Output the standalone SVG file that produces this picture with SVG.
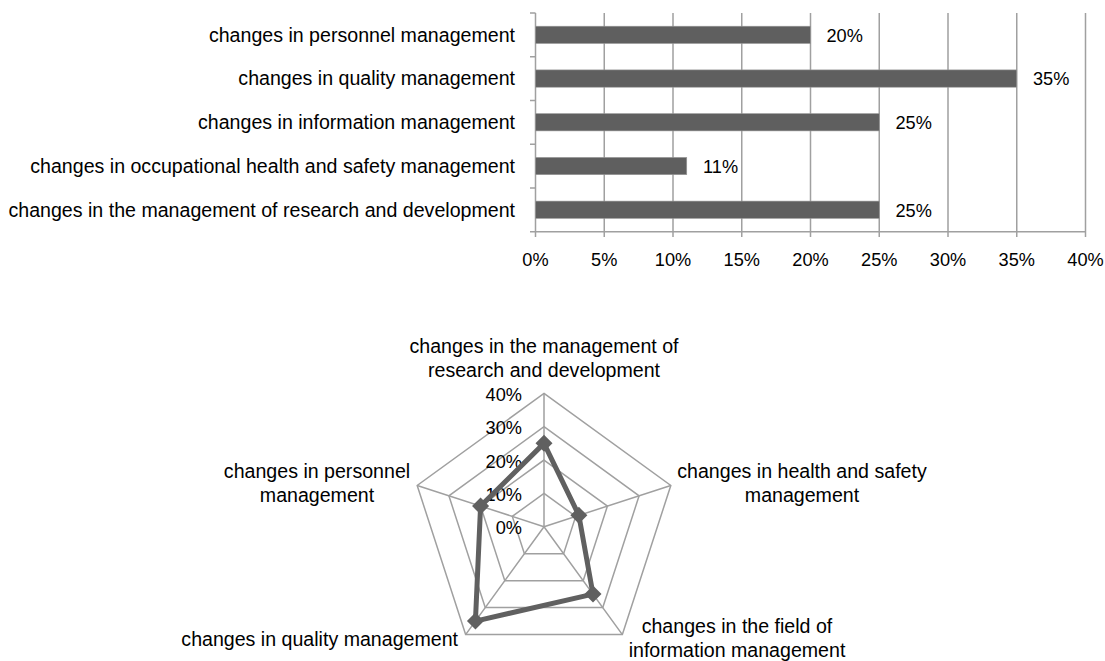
<svg xmlns="http://www.w3.org/2000/svg" width="1105" height="661" viewBox="0 0 1105 661">
<style>
text{font-family:"Liberation Sans",Arial,sans-serif;font-size:19.6px;fill:#000}
.num{font-size:18.2px}
.grid{stroke:#a0a0a0;stroke-width:1.5;fill:none}
.bar{fill:#5f5f5f;stroke:#9a9a9a;stroke-width:0.6}
.end{text-anchor:end}
.mid{text-anchor:middle}
.data{fill:none;stroke:#606060;stroke-width:5;stroke-linejoin:round}
.mk{fill:#606060}
</style>
<rect width="1105" height="661" fill="#fff"/>
<g id="bar-chart">
<g id="bar-grid" class="grid">
<path d="M604.25 13V237M673 13V237M741.75 13V237M810.5 13V237M879.25 13V237M948 13V237M1016.75 13V237M1085.5 13V237"/>
<path d="M535.5 13V237M530 231.7H1085.5"/>
<path d="M530 13H535.5M530 56.7H535.5M530 100.5H535.5M530 144.2H535.5M530 187.9H535.5"/>
</g>
<g id="bars">
<rect class="bar" x="535.5" y="26.2" width="275" height="17.3"/>
<rect class="bar" x="535.5" y="69.9" width="481.25" height="17.3"/>
<rect class="bar" x="535.5" y="113.6" width="343.75" height="17.3"/>
<rect class="bar" x="535.5" y="157.4" width="151.25" height="17.3"/>
<rect class="bar" x="535.5" y="201.1" width="343.75" height="17.3"/>
</g>
<g id="bar-labels">
<text class="end" x="515" y="41.6">changes in personnel management</text>
<text class="end" x="515" y="85.3">changes in quality management</text>
<text class="end" x="515" y="129">changes in information management</text>
<text class="end" x="515" y="172.8">changes in occupational health and safety management</text>
<text class="end" x="515" y="216.5">changes in the management of research and development</text>
</g>
<g id="bar-values">
<text class="num" x="826.5" y="41.6">20%</text>
<text class="num" x="1033" y="85.3">35%</text>
<text class="num" x="895.5" y="129">25%</text>
<text class="num" x="703" y="172.8">11%</text>
<text class="num" x="895.5" y="216.5">25%</text>
</g>
<g id="bar-axis-labels">
<text class="mid num" x="535.5" y="266">0%</text>
<text class="mid num" x="604.25" y="266">5%</text>
<text class="mid num" x="673" y="266">10%</text>
<text class="mid num" x="741.75" y="266">15%</text>
<text class="mid num" x="810.5" y="266">20%</text>
<text class="mid num" x="879.25" y="266">25%</text>
<text class="mid num" x="948" y="266">30%</text>
<text class="mid num" x="1016.75" y="266">35%</text>
<text class="mid num" x="1085.5" y="266">40%</text>
</g>
</g>
<g id="radar-chart">
<g id="radar-grid" class="grid">
<polygon points="544,493.37 575.70,516.40 563.59,553.67 524.41,553.67 512.30,516.40"/>
<polygon points="544,460.03 607.41,506.10 583.19,580.64 504.81,580.64 480.59,506.10"/>
<polygon points="544,426.7 639.11,495.8 602.78,607.6 485.22,607.6 448.89,495.8"/>
<polygon points="544,393.37 670.81,485.5 622.37,634.57 465.63,634.57 417.19,485.5"/>
<path d="M544 526.7V393.37M544 526.7L670.81 485.5M544 526.7L622.37 634.57M544 526.7L465.63 634.57M544 526.7L417.19 485.5"/>
</g>
<g id="radar-scale">
<text class="end num" x="522" y="401">40%</text>
<text class="end num" x="522" y="434.3">30%</text>
<text class="end num" x="522" y="467.7">20%</text>
<text class="end num" x="522" y="501">10%</text>
<text class="end num" x="522" y="534.3">0%</text>
</g>
<g id="radar-series">
<polygon class="data" points="544,443.37 578.87,515.37 592.98,594.11 475.42,621.09 480.59,506.10"/>
<g class="mk">
<polygon points="544,434.87 552.5,443.37 544,451.87 535.5,443.37"/>
<polygon points="578.87,506.87 587.37,515.37 578.87,523.87 570.37,515.37"/>
<polygon points="592.98,585.61 601.48,594.11 592.98,602.61 584.48,594.11"/>
<polygon points="475.42,612.59 483.92,621.09 475.42,629.59 466.92,621.09"/>
<polygon points="480.59,497.60 489.09,506.10 480.59,514.60 472.09,506.10"/>
</g>
</g>
<g id="radar-labels">
<text class="mid" x="544" y="353">changes in the management of</text>
<text class="mid" x="544" y="377">research and development</text>
<text class="mid" x="802" y="478">changes in health and safety</text>
<text class="mid" x="802" y="502">management</text>
<text class="mid" x="737" y="633">changes in the field of</text>
<text class="mid" x="737" y="657">information management</text>
<text class="end" x="458" y="646">changes in quality management</text>
<text class="mid" x="317" y="478">changes in personnel</text>
<text class="mid" x="317" y="502">management</text>
</g>
</g>
</svg>
